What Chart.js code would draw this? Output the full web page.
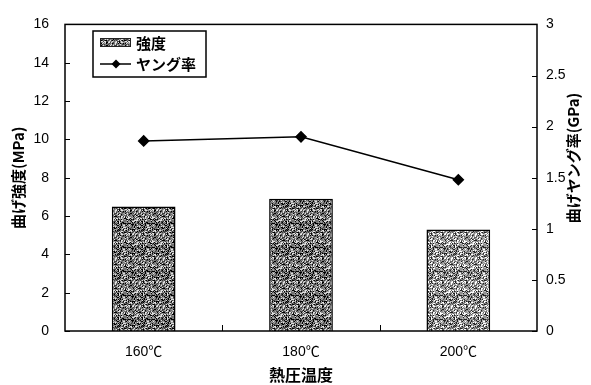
<!DOCTYPE html>
<html>
<head>
<meta charset="utf-8">
<script src="https://cdn.jsdelivr.net/npm/chart.js@4/dist/chart.umd.min.js"></script>
<style>
  html, body { margin: 0; padding: 0; background: #fff; }
  #wrap { width: 591px; height: 385px; }
</style>
</head>
<body>
<div id="wrap"><canvas id="c" width="591" height="385"></canvas></div>
<script>
// Hot-press temperature vs. bending strength / Young's modulus
const categories = ['160℃', '180℃', '200℃'];
const strength = [6.5, 6.9, 5.3];        // 曲げ強度 (MPa)
const modulus = [1.86, 1.90, 1.48];      // 曲げヤング率 (GPa)
const leftTicks = [0, 2, 4, 6, 8, 10, 12, 14, 16];
const rightTicks = [0, 0.5, 1, 1.5, 2, 2.5, 3];

const FONT = '"Liberation Sans", Arial, "Noto Sans CJK JP", sans-serif';
const CJK = '"Noto Sans CJK JP", "Liberation Sans", sans-serif';

// Stippled grey fill used for the bars (fixed hashed dither tile)
function stipple(shades) {
  const n = 24;
  const t = document.createElement('canvas');
  t.width = n; t.height = n;
  const g = t.getContext('2d');
  for (let y = 0; y < n; y++) {
    for (let x = 0; x < n; x++) {
      const h = ((x * 73856093) ^ (y * 19349663) ^ ((x + 3 * y) * 83492791)) >>> 0;
      const k = (h >>> 9) % shades.length;
      g.fillStyle = shades[k];
      g.fillRect(x, y, 1, 1);
    }
  }
  return g.createPattern(t, 'repeat');
}
const ctx = document.getElementById('c').getContext('2d');
const darkFill = stipple(['#000000', '#404040', '#707070', '#808080', '#a0a0a0', '#e0e0e0']);
const lightFill = stipple(['#202020', '#606060', '#909090', '#a0a0a0', '#c0c0c0', '#ffffff']);
const barFills = [darkFill, darkFill, lightFill];

const fmt = v => String(v);

// Frame, inward tick marks, right-hand title and the boxed legend
const framePlugin = {
  id: 'frame',
  afterDraw(chart) {
    const c = chart.ctx;
    const a = chart.chartArea;
    const y = chart.scales.y, y1 = chart.scales.y1, x = chart.scales.x;
    c.save();
    c.strokeStyle = '#000';
    c.lineWidth = 1.5;
    c.strokeRect(a.left, a.top, a.right - a.left, a.bottom - a.top);
    c.lineWidth = 1;
    c.beginPath();
    leftTicks.forEach(v => {
      const p = Math.round(y.getPixelForValue(v)) + 0.5;
      c.moveTo(a.left, p); c.lineTo(a.left + 5, p);
    });
    rightTicks.forEach(v => {
      const p = Math.round(y1.getPixelForValue(v)) + 0.5;
      c.moveTo(a.right - 5, p); c.lineTo(a.right, p);
    });
    for (let i = 0; i < categories.length - 1; i++) {
      const p = Math.round((x.getPixelForValue(i) + x.getPixelForValue(i + 1)) / 2) + 0.5;
      c.moveTo(p, a.bottom); c.lineTo(p, a.bottom - 6);
    }
    c.stroke();

    // right-hand axis title, reading bottom to top
    c.save();
    c.translate(573, 158);
    c.rotate(-Math.PI / 2);
    c.fillStyle = '#000';
    c.font = 'bold 15px ' + CJK;
    c.textAlign = 'center';
    c.textBaseline = 'middle';
    c.fillText('曲げヤング率(GPa)', 0, 0);
    c.restore();

    // legend
    const lx = 93, ly = 31, lw = 113, lh = 46;
    c.fillStyle = '#fff';
    c.fillRect(lx, ly, lw, lh);
    c.lineWidth = 1.5;
    c.strokeRect(lx, ly, lw, lh);
    c.fillStyle = darkFill;
    c.fillRect(100, 38, 31, 9);
    c.lineWidth = 1;
    c.strokeStyle = '#222';
    c.strokeRect(100.5, 38.5, 30, 8);
    c.strokeStyle = '#000';
    c.beginPath();
    c.lineWidth = 1.5;
    c.moveTo(100, 64); c.lineTo(131, 64);
    c.stroke();
    c.fillStyle = '#000';
    c.beginPath();
    c.moveTo(116, 59.5); c.lineTo(120.5, 64); c.lineTo(116, 68.5); c.lineTo(111.5, 64);
    c.closePath(); c.fill();
    c.font = 'bold 15px ' + CJK;
    c.textBaseline = 'middle';
    c.textAlign = 'left';
    c.fillText('強度', 136, 43);
    c.fillText('ヤング率', 136, 64);
    c.restore();
  }
};

new Chart(ctx, {
  data: {
    labels: categories,
    datasets: [
      {
        type: 'line',
        label: 'ヤング率',
        data: modulus,
        yAxisID: 'y1',
        borderColor: '#000',
        borderWidth: 1.5,
        pointStyle: 'rectRot',
        pointRadius: 5,
        pointBackgroundColor: '#000',
        pointBorderColor: '#000',
        tension: 0,
        order: 0
      },
      {
        type: 'bar',
        label: '強度',
        data: strength,
        yAxisID: 'y',
        backgroundColor: barFills,
        borderColor: '#000',
        borderWidth: 1.5,
        barPercentage: 0.405,
        categoryPercentage: 1,
        order: 1
      }
    ]
  },
  options: {
    responsive: false,
    animation: false,
    layout: { padding: { top: 16, left: 0, right: 0, bottom: 0 } },
    plugins: { legend: { display: false }, tooltip: { enabled: false } },
    scales: {
      x: {
        offset: true,
        grid: { display: false, drawTicks: false },
        border: { display: false },
        ticks: { color: '#000', font: { family: FONT, size: 14 }, padding: 13 },
        title: { display: true, text: '熱圧温度', color: '#000',
                 font: { family: CJK, size: 16, weight: 'bold' }, padding: { top: 0, bottom: 0 } },
        afterFit(s) { s.height = 54; }
      },
      y: {
        position: 'left',
        min: 0, max: 16,
        afterBuildTicks(s) { s.ticks = leftTicks.map(v => ({ value: v })); },
        grid: { display: false, drawTicks: false },
        border: { display: false },
        ticks: { color: '#000', font: { family: FONT, size: 14 }, padding: 16, callback: fmt },
        title: { display: true, text: '曲げ強度(MPa)', color: '#000',
                 font: { family: CJK, size: 15, weight: 'bold' }, padding: { top: 9, bottom: 0 } },
        afterFit(s) { s.width = 65; }
      },
      y1: {
        position: 'right',
        min: 0, max: 3,
        afterBuildTicks(s) { s.ticks = rightTicks.map(v => ({ value: v })); },
        grid: { display: false, drawTicks: false },
        border: { display: false },
        ticks: { color: '#000', font: { family: FONT, size: 14 }, padding: 9, callback: fmt },
        title: { display: false },
        afterFit(s) { s.width = 54; }
      }
    }
  },
  plugins: [framePlugin]
});
</script>
</body>
</html>
